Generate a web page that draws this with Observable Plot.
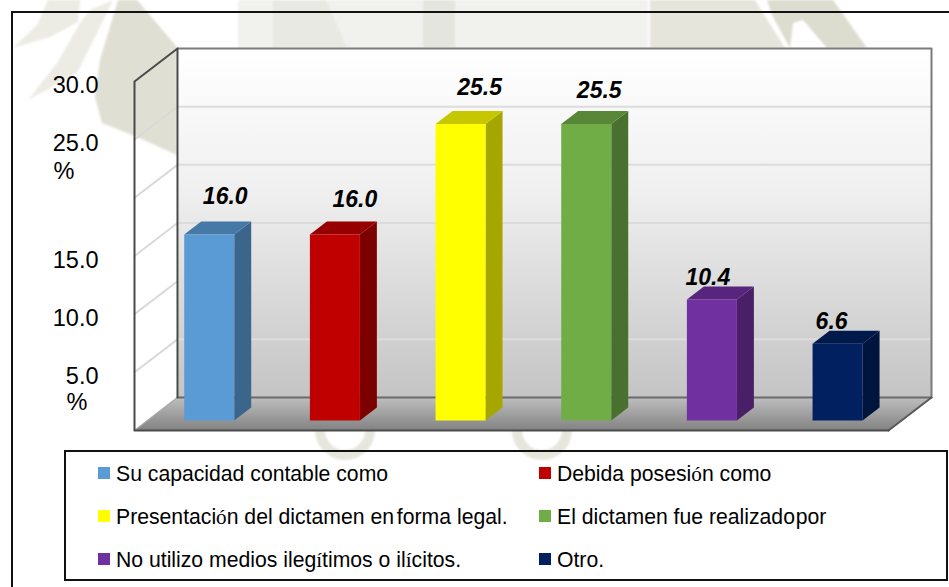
<!DOCTYPE html>
<html lang="es">
<head>
<meta charset="utf-8">
<script src="https://cdn.jsdelivr.net/npm/d3@7"></script>
<script src="https://cdn.jsdelivr.net/npm/@observablehq/plot@0.6"></script>
<style>
  html, body { margin: 0; padding: 0; background: #fff; }
  #page { position: relative; width: 949px; height: 587px; overflow: hidden; font-family: "Liberation Sans", Arial, sans-serif; color: #000; }
  #mark { position: absolute; left: 0; top: 0; }
  #frame { position: absolute; left: 11px; top: 11px; right: -4px; bottom: -4px; border: 2px solid #111; }
  #chart { position: absolute; left: 0; top: 0; }
  #legend { position: absolute; left: 64px; top: 450px; width: 880px; height: 127px; border: 2px solid #111; }
  .item { position: absolute; font-size: 21.2px; line-height: 24px; white-space: nowrap; }
  .swatch { position: absolute; width: 12px; height: 12px; }
  .thin { font-family: "Liberation Serif", serif; }
</style>
</head>
<body>
<div id="page">
  <svg id="mark" width="949" height="587" aria-hidden="true">
    <defs><filter id="soft"><feGaussianBlur stdDeviation="1"/></filter></defs>
    <g filter="url(#soft)">
      <path d="M13 48L37 25L48 0H80L78 22L50 37Z" fill="#ecece4"/>
      <path d="M28 100L57 63L80 23L90 10L113 0L97 33L77 73Z" fill="#ecece4"/>
      <path d="M118 0H137L177 47V155L137 137L102 123L95 97L100 60Z" fill="#dfdfd3"/>
      <path d="M238 0H648V48H238Z" fill="#f1f1ed"/>
      <path d="M273 0H326L347 48H273Z" fill="#e9e9e3"/>
      <path d="M423 0H455V48H423Z" fill="#e5e5df"/>
      <path d="M650 0H755L785 48H650Z" fill="#e5e5dc"/>
      <path d="M767 0H833L867 48H827L803 20L793 23L790 48L772 15Z" fill="#dcdccf"/>
      <circle cx="345" cy="430" r="25" fill="none" stroke="#e6e6dc" stroke-width="10"/>
      <circle cx="542" cy="430" r="25" fill="none" stroke="#e6e6dc" stroke-width="10"/>
    </g>
  </svg>
  <div id="frame"></div>
  <div id="chart"></div>
  <div id="legend"></div>
</div>
<script>
// ---- data ----
const categories = [
  "Su capacidad contable como",
  "Debida posesión como",
  "Presentación del dictamen en forma legal.",
  "El dictamen fue realizado por",
  "No utilizo medios ilegítimos o ilícitos.",
  "Otro."
];
const values = [16.0, 16.0, 25.5, 25.5, 10.4, 6.6];
const colors = ["#5B9BD5", "#C00000", "#FFFF00", "#70AD47", "#7030A0", "#002060"];
const gridValues = [5, 10, 15, 20, 25];
const tickValues = [5, 10, 15, 25, 30];
const percentTicks = [25, 5];

// ---- oblique 3D projection, in data units ----
const depthX = 0.342;   // categories per unit of depth
const depthY = 2.835;   // value units per unit of depth
const barHalf = 0.199;
const barCentre = 0.492;
const barFront = 0.3, barBack = 0.695;
const P = (i, v, d = 0) => ({x: i + depthX * d, y: v + depthY * d});
const top30 = 30;

const shade = (c, k) => { const r = d3.rgb(c); return d3.rgb(r.r * k, r.g * k, r.b * k).formatHex(); };
const face = (pts, fill) => Plot.line(pts, {x: "x", y: "y", fill, stroke: "none"});
const edge = (pts, stroke, strokeWidth = 2) => Plot.line(pts, {x: "x", y: "y", stroke, strokeWidth});

const gradients = () => {
  const defs = d3.create("svg:defs");
  const add = (id, stops) => {
    const g = defs.append("linearGradient").attr("id", id).attr("x1", 0).attr("x2", 0).attr("y1", 0).attr("y2", 1);
    stops.forEach(([o, c]) => g.append("stop").attr("offset", o).attr("stop-color", c));
  };
  add("wall", [[0, "#ffffff"], [0.4, "#f0f0f0"], [1, "#c4c4c4"]]);
  add("floor", [[0, "#bebebe"], [1, "#828282"]]);
  return defs.node();
};

const wall = [P(0, 0, 1), P(0, top30, 1), P(6, top30, 1), P(6, 0, 1)];
const floor = [P(0, 0, 0), P(0, 0, 1), P(6, 0, 1), P(6, 0, 0)];

const barMarks = values.flatMap((v, i) => {
  const c = i + barCentre, l = c - barHalf, r = c + barHalf, col = colors[i];
  return [
    face([P(r, 0, barFront), P(r, 0, barBack), P(r, v, barBack), P(r, v, barFront)], shade(col, 0.65)),
    face([P(l, v, barFront), P(l, v, barBack), P(r, v, barBack), P(r, v, barFront)], shade(col, 0.78)),
    face([P(l, 0, barFront), P(l, v, barFront), P(r, v, barFront), P(r, 0, barFront)], col)
  ];
});

// each value label was placed by hand in the source chart: offset from its bar's front top
const labelNudge = [[16, -38], [20, -35], [19, -36], [13, -33], [-4, -22], [-6, -22]];
const labelMarks = values.map((v, i) => {
  const p = P(i + barCentre, v, barFront);
  return Plot.text([v], {
    x: () => p.x, y: () => p.y, text: (d) => d.toFixed(1),
    dx: labelNudge[i][0], dy: labelNudge[i][1],
    fontSize: 23, fontWeight: "bold", fontStyle: "italic", fill: "#000"
  });
});

const chart = Plot.plot({
  width: 949, height: 440,
  marginLeft: 134, marginRight: 18, marginTop: 48, marginBottom: 10,
  style: {background: "transparent", fontFamily: "'Liberation Sans', Arial, sans-serif"},
  x: {domain: [0, 6 + depthX], axis: null},
  y: {domain: [0, top30 + depthY]},
  marks: [
    gradients,
    face(wall, "url(#wall)"),
    Plot.ruleY(gridValues, {y: (d) => d + depthY, x1: depthX, x2: 6 + depthX, stroke: "#dcdcdc", strokeWidth: 2}),
    ...gridValues.map((v) => edge([P(0, v, 0), P(0, v, 1)], "#d9d9d9", 2)),
    face(floor, "url(#floor)"),
    edge([P(0, top30, 1), P(6, top30, 1), P(6, 0, 1)], "#7a7a7a", 2),
    edge([P(0, 0, 1), P(6, 0, 1)], "#6a6a6a", 2),
    edge([P(0, 0, 0), P(0, 0, 1)], "#a8a8a8", 1.5),
    edge([P(6, 0, 0), P(6, 0, 1)], "#595959", 2),
    edge([P(0, 0, 1), P(0, top30, 1), P(0, top30, 0), P(0, 0, 0), P(6, 0, 0)], "#4a4a4a", 2),
    ...barMarks,
    ...labelMarks,
    Plot.axisY({
      ticks: tickValues, tickSize: 0, tickPadding: 36, label: null,
      tickFormat: (d) => d.toFixed(1), fontSize: 23.5, dy: 4, fill: "#000"
    }),
    Plot.text([percentTicks[0]], {x: () => 0, y: (d) => d, text: () => "%", dx: -81, dy: 32, textAnchor: "start", fontSize: 23.5, fill: "#000"}),
    Plot.text([percentTicks[1]], {x: () => 0, y: (d) => d, text: () => "%", dx: -68, dy: 30, textAnchor: "start", fontSize: 23.5, fill: "#000"})
  ]
});
document.getElementById("chart").append(chart);

// ---- legend ----
const legendX = [[32, 50], [473, 491]];       // swatch and text offsets per column
const legendY = [15, 58, 101];                 // swatch offsets per row
const legend = d3.select("#legend");
const decorate = (s) => s
  .replace(/[óí]/g, (m) => `<span class="thin">${m}</span>`)
  .replace("en forma", '<span style="word-spacing:-3px">en forma</span>')
  .replace("realizado por", '<span style="word-spacing:-5px">realizado por</span>');
categories.forEach((label, i) => {
  const col = legendX[i % 2], row = legendY[Math.floor(i / 2)];
  legend.append("div").attr("class", "swatch").style("left", col[0] + "px").style("top", row + "px").style("background", colors[i]);
  legend.append("div").attr("class", "item").style("left", col[1] + "px").style("top", (row - 5) + "px").html(decorate(label));
});
</script>
</body>
</html>
